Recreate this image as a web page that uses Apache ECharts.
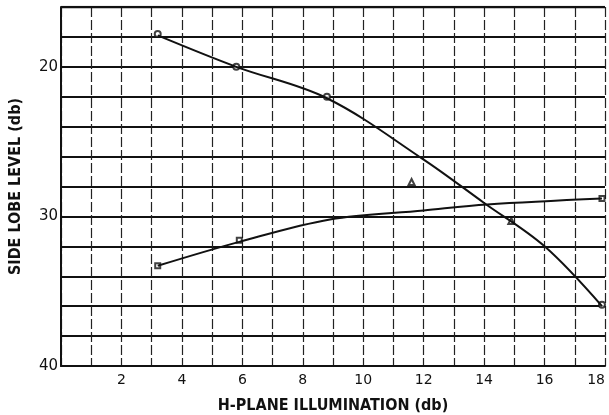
<!DOCTYPE html>
<html>
<head>
<meta charset="utf-8">
<script src="https://cdn.jsdelivr.net/npm/echarts@6/dist/echarts.min.js"></script>
<style>
  html, body { margin: 0; padding: 0; background: #fff; }
  #chart { width: 609px; height: 415px; }
</style>
</head>
<body>
<div id="chart"></div>
<script>
// curve 1: side lobe level falls off as illumination grows
const curveA = [[3.2, 17.9], [5.8, 20.0], [8.8, 22.1], [12, 26.2], [14, 29.1], [16, 32.0], [17.9, 36.0]];
// curve 2: the rising one
const curveB = [[3.2, 33.3], [5.9, 31.7], [8.9, 30.2], [12, 29.6], [14.1, 29.2], [17.9, 28.8]];
// measured points
const pointsA = [[3.2, 17.8], [5.8, 20.0], [8.8, 22.0], [17.9, 35.9]];
const pointsB = [[3.2, 33.3], [5.9, 31.6], [17.9, 28.8]];
const pointsC = [[11.6, 27.7], [14.9, 30.3]];

const xTicks = [2, 4, 6, 8, 10, 12, 14, 16, 18];
const yTicks = [20, 30, 40];

const ink = '#111';
const titleFont = { color: ink, fontFamily: 'DejaVu Sans Condensed', fontWeight: 'bold', fontSize: 16 };
const chart = echarts.init(document.getElementById('chart'));

chart.setOption({
  animation: false,
  backgroundColor: '#fff',
  grid: { left: 61, right: 4, top: 7, bottom: 49, containLabel: false, outerBoundsMode: 'none' },
  xAxis: {
    type: 'value',
    min: 0, max: 18, interval: 1,
    name: 'H-PLANE ILLUMINATION (db)',
    nameLocation: 'middle',
    nameGap: 32,
    nameTextStyle: titleFont,
    axisLine: { lineStyle: { color: ink, width: 2 } },
    axisTick: { show: false },
    axisLabel: {
      color: ink, fontFamily: 'DejaVu Sans', fontSize: 14, margin: 7,
      alignMaxLabel: 'right',
      formatter: v => (xTicks.includes(v) ? String(v) : '')
    },
    splitLine: { show: true, lineStyle: { color: '#222', width: 1.2, type: [10, 3] } }
  },
  yAxis: {
    type: 'value',
    inverse: true,
    min: 16, max: 40, interval: 2,
    name: 'SIDE LOBE LEVEL (db)',
    nameLocation: 'middle',
    nameGap: 37,
    nameTextStyle: titleFont,
    axisLine: { show: true, lineStyle: { color: ink, width: 2 } },
    axisTick: { show: false },
    axisLabel: {
      color: ink, fontFamily: 'DejaVu Sans', fontSize: 15, margin: 3,
      formatter: v => (yTicks.includes(v) ? String(v) : '')
    },
    splitLine: { show: true, lineStyle: { color: ink, width: 1.8 } }
  },
  series: [
    {
      type: 'line', data: curveA, smooth: 0.35, showSymbol: false,
      lineStyle: { color: ink, width: 2 }
    },
    {
      type: 'line', data: curveB, smooth: 0.35, showSymbol: false,
      lineStyle: { color: ink, width: 2 }
    },
    {
      type: 'scatter', data: pointsA, symbol: 'emptyCircle', symbolSize: 6,
      itemStyle: { color: ink, borderColor: ink, borderWidth: 1.5 }
    },
    {
      type: 'scatter', data: pointsB, symbol: 'emptyRect', symbolSize: 5,
      itemStyle: { color: ink, borderColor: ink, borderWidth: 1.5 }
    },
    {
      type: 'scatter', data: pointsC, symbol: 'emptyTriangle', symbolSize: 6,
      itemStyle: { color: ink, borderColor: ink, borderWidth: 1.5 }
    },
    {
      // heavy top border of the plot
      type: 'line', data: [[0, 16], [18, 16]], showSymbol: false, silent: true,
      lineStyle: { color: ink, width: 2.5 }
    }
  ]
});
</script>
</body>
</html>
